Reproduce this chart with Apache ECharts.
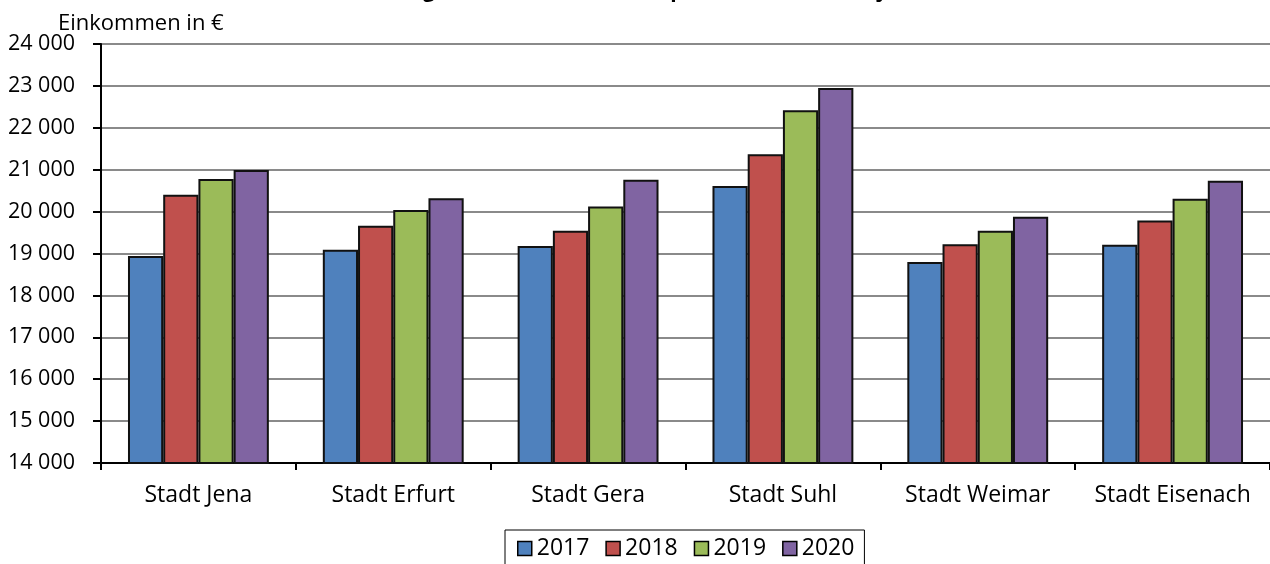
<!DOCTYPE html>
<html>
<head>
<meta charset="utf-8">
<script src="https://cdn.jsdelivr.net/npm/echarts@6/dist/echarts.min.js"></script>
<style>
html,body{margin:0;padding:0;background:#fff;}
#chart{width:1270px;height:564px;}
</style>
</head>
<body>
<div id="chart"></div>
<script>
const titleText = 'Verfügbares Einkommen der privaten Haushalte je Einwohner';
const yAxisName = 'Einkommen in €';
const categories = ['Stadt Jena', 'Stadt Erfurt', 'Stadt Gera', 'Stadt Suhl', 'Stadt Weimar', 'Stadt Eisenach'];
const years = ['2017', '2018', '2019', '2020'];
const values2017 = [18940, 19090, 19180, 20610, 18800, 19210];
const values2018 = [20400, 19660, 19540, 21370, 19220, 19790];
const values2019 = [20780, 20040, 20120, 22420, 19545, 20305];
const values2020 = [20990, 20320, 20760, 22950, 19880, 20735];
const yMin = 14000, yMax = 24000, yStep = 1000;
const colors = ['#4F81BD', '#C0504D', '#9BBB59', '#8064A2'];

const FONT = 'Open Sans';
const seriesData = [values2017, values2018, values2019, values2020];

const chart = echarts.init(document.getElementById('chart'), null, {renderer: 'canvas'});
chart.setOption({
  animation: false,
  backgroundColor: '#fff',
  textStyle: {fontFamily: FONT, color: '#000'},
  title: [
    {text: titleText, left: 685, textAlign: 'center', top: -24,
     textStyle: {fontFamily: FONT, fontSize: 21, fontWeight: 'bold', color: '#000'}},
    {text: yAxisName, left: 53, top: 8,
     textStyle: {fontFamily: FONT, fontSize: 22, fontWeight: 'normal', color: '#000'}}
  ],
  grid: {left: 101, top: 44, width: 1170, height: 419, containLabel: false},
  legend: {
    data: years, left: 505, top: 530, orient: 'horizontal',
    borderColor: '#000', borderWidth: 1, padding: [7, 10, 9, 12],
    itemWidth: 14, itemHeight: 14, itemGap: 16, icon: 'rect',
    itemStyle: {borderColor: '#000', borderWidth: 1.5},
    textStyle: {fontFamily: FONT, fontSize: 23, color: '#000'}
  },
  xAxis: {
    type: 'category', data: categories,
    axisLine: {lineStyle: {color: '#000', width: 2}},
    axisTick: {show: true, interval: 0, length: 7, lineStyle: {color: '#000', width: 2}},
    axisLabel: {interval: 0, hideOverlap: false, fontFamily: FONT, fontSize: 23, color: '#000', margin: 21}
  },
  yAxis: {
    type: 'value', min: yMin, max: yMax, interval: yStep,
    axisLine: {show: true, lineStyle: {color: '#000', width: 2}},
    axisTick: {show: true, length: 8, lineStyle: {color: '#000', width: 2}},
    axisLabel: {fontFamily: FONT, fontSize: 21.5, color: '#000', margin: 26,
      formatter: v => String(v).replace(/\B(?=(\d{3})+(?!\d))/g, ' ')},
    splitLine: {show: true, lineStyle: {color: '#8a8a8a', width: 2}}
  },
  series: years.map((y, i) => ({
    name: y, type: 'bar', data: seriesData[i],
    barGap: '0%', barCategoryGap: '27.7%',
    itemStyle: {color: colors[i], borderColor: '#111', borderWidth: 2}
  }))
});
</script>
</body>
</html>
